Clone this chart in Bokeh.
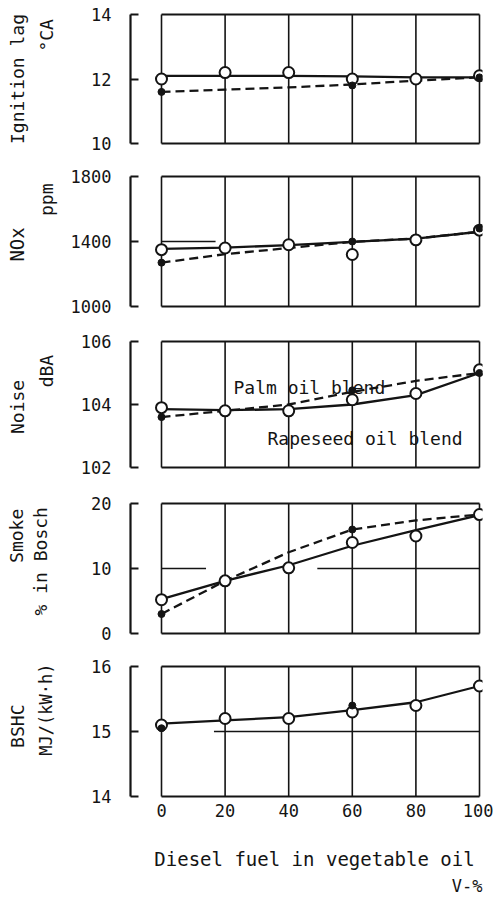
import numpy as np
from bokeh.plotting import figure
from bokeh.layouts import column, row
from bokeh.models import Range1d, FixedTicker, Label
from bokeh.core.properties import value
from bokeh.embed import file_html
from bokeh.resources import INLINE

# Share of diesel fuel in the vegetable-oil blend, v-%
diesel_pct = [0, 20, 40, 60, 80, 100]
palm_pct = [0, 60, 100]
palm_pct_short = [0, 60]
x_ticks = [0, 20, 40, 60, 80, 100]
x_tick_labels = ["0", "20", "40", "60", "80", "100"]

# Ignition lag, °CA
ign_rapeseed = [12.0, 12.2, 12.2, 12.0, 12.0, 12.1]
ign_palm = [11.6, 11.8, 12.05]
ign_rapeseed_curve = [12.1, 12.1, 12.1, 12.08, 12.05, 12.05]
ign_palm_curve = [11.6, 11.67, 11.74, 11.83, 11.95, 12.05]
ign_ticks = [10, 12, 14]

# NOx, ppm
nox_rapeseed = [1350, 1360, 1380, 1320, 1410, 1470]
nox_palm = [1270, 1400, 1480]
nox_rapeseed_curve = [1355, 1362, 1378, 1398, 1418, 1460]
nox_palm_curve = [1270, 1322, 1360, 1398, 1418, 1460]
nox_ticks = [1000, 1400, 1800]

# Noise, dBA
noise_rapeseed = [103.9, 103.8, 103.8, 104.15, 104.35, 105.1]
noise_palm = [103.6, 104.45, 105.0]
noise_rapeseed_curve = [103.85, 103.82, 103.85, 104.0, 104.3, 105.0]
noise_palm_curve = [103.6, 103.8, 104.0, 104.4, 104.75, 105.0]
noise_ticks = [102, 104, 106]

# Smoke, % Bosch
smoke_rapeseed = [5.2, 8.1, 10.1, 14.0, 15.0, 18.3]
smoke_palm = [3.0, 16.0]
smoke_rapeseed_curve = [5.3, 8.1, 10.5, 13.5, 15.9, 18.2]
smoke_palm_curve = [3.0, 8.1, 12.5, 16.0, 17.4, 18.3]
smoke_ticks = [0, 10, 20]

# Brake specific heat consumption, MJ/(kW·h)
bshc_rapeseed = [15.1, 15.2, 15.2, 15.3, 15.4, 15.7]
bshc_palm = [15.05, 15.4]
bshc_rapeseed_curve = [15.12, 15.17, 15.22, 15.33, 15.45, 15.7]
bshc_ticks = [14, 15, 16]

INK = "#141414"
MONO = "DejaVu Sans Mono"

W = 493
LW = 66                              # strip on the left holding the quantity names
FRAME_L, FRAME_R = 130, 482          # plot frame in page pixels
X0_PX, X100_PX = 161, 479            # where 0 % and 100 % sit
PAD = 3                               # px kept above/below the boxed area
TICK_FONT = 17

# name / unit lines: (text, centre x, anchor y, alignment, font px)
panels = [
    dict(ticks=ign_ticks, rape=ign_rapeseed, palm_x=palm_pct, palm=ign_palm,
         rape_curve=ign_rapeseed_curve, palm_curve=ign_palm_curve,
         top=0, bottom=160, d_top=14, d_bot=143, rules=[],
         names=[("Ignition lag", 17, 80, "center", 18), ("°CA", 46, 9, "right", 18)]),
    dict(ticks=nox_ticks, rape=nox_rapeseed, palm_x=palm_pct, palm=nox_palm,
         rape_curve=nox_rapeseed_curve, palm_curve=nox_palm_curve,
         top=160, bottom=323, d_top=176, d_bot=306, rules=[(1400, 0, 17)],
         names=[("NOx", 16, 245, "center", 19), ("ppm", 46, 172, "right", 18)]),
    dict(ticks=noise_ticks, rape=noise_rapeseed, palm_x=palm_pct, palm=noise_palm,
         rape_curve=noise_rapeseed_curve, palm_curve=noise_palm_curve,
         top=323, bottom=485, d_top=341, d_bot=467, rules=[],
         names=[("Noise", 17, 407, "center", 18), ("dBA", 46, 343, "right", 18)]),
    dict(ticks=smoke_ticks, rape=smoke_rapeseed, palm_x=palm_pct_short, palm=smoke_palm,
         rape_curve=smoke_rapeseed_curve, palm_curve=smoke_palm_curve,
         top=485, bottom=650, d_top=503, d_bot=633, rules=[(10, 0, 14), (10, 49, 100)],
         names=[("Smoke", 16, 495, "right", 18), ("% in Bosch", 40, 493, "right", 18)]),
    dict(ticks=bshc_ticks, rape=bshc_rapeseed, palm_x=palm_pct_short, palm=bshc_palm,
         rape_curve=bshc_rapeseed_curve, palm_curve=None,
         top=650, bottom=830, d_top=666, d_bot=796, rules=[(15, 16.5, 100)],
         names=[("BSHC", 17, 733, "center", 18), ("MJ/(kW·h)", 45, 711, "center", 17)]),
]
FOOTER_TOP, FOOTER_BOTTOM = 830, 897
footer_lines = [("Diesel fuel in vegetable oil", 314, 858, "center", 19),
                ("V-%", 482, 885, "right", 17)]

px_per_pct = (X100_PX - X0_PX) / 100.0
x_start = -(X0_PX - FRAME_L) / px_per_pct
x_end = (FRAME_R - X0_PX) / px_per_pct


def x_of(px):
    return (px - X0_PX) / px_per_pct


def text_strip(width, top, bottom, lines, angle):
    """A bare canvas, measured in page pixels, that only carries text."""
    h = bottom - top
    s = figure(width=width, height=h, output_backend="svg", toolbar_location=None,
               x_range=Range1d(0, width), y_range=Range1d(0, h),
               x_axis_location=None, y_axis_location=None,
               min_border_left=0, min_border_right=0, min_border_top=0, min_border_bottom=0)
    s.outline_line_color = None
    s.grid.visible = False
    s.background_fill_color = "white"
    s.border_fill_color = "white"
    for text, cx, cy, align, size in lines:
        s.text(x=[cx], y=[h - (cy - top)], text=[text], angle=angle,
               text_align=align, text_baseline="middle",
               text_font=value(MONO), text_font_size=value(f"{size}px"), text_color=INK)
    return s


rows = []
for i, pn in enumerate(panels):
    ymin, ymax = pn["ticks"][0], pn["ticks"][-1]
    px_per_unit = (pn["d_bot"] - pn["d_top"]) / (ymax - ymin)
    pad_u = PAD / px_per_unit
    fig_h = pn["bottom"] - pn["top"]
    b_top = pn["d_top"] - PAD - pn["top"]
    frame_h = pn["d_bot"] - pn["d_top"] + 2 * PAD
    b_bot = fig_h - b_top - frame_h
    last = i == len(panels) - 1

    p = figure(width=W - LW, height=fig_h, output_backend="svg", toolbar_location=None,
               x_range=Range1d(x_start, x_end),
               y_range=Range1d(ymin - pad_u, ymax + pad_u),
               x_axis_location="below" if last else None,
               min_border_left=FRAME_L - LW, min_border_right=W - FRAME_R,
               min_border_top=b_top, min_border_bottom=b_bot)
    p.outline_line_color = None
    p.grid.visible = False
    p.background_fill_color = "white"
    p.border_fill_color = "white"

    def y_of(py, ymax=ymax, d_top=pn["d_top"], s=px_per_unit):
        return ymax - (py - d_top) / s

    # bracket-style value axis
    ya = p.yaxis[0]
    ya.ticker = FixedTicker(ticks=pn["ticks"])
    ya.bounds = (ymin, ymax)
    ya.axis_line_width = 2.2
    ya.axis_line_color = INK
    ya.major_tick_in = 8
    ya.major_tick_out = 0
    ya.major_tick_line_width = 2.2
    ya.major_tick_line_color = INK
    ya.minor_tick_line_color = None
    ya.major_label_standoff = 19
    ya.major_label_text_font = MONO
    ya.major_label_text_font_size = f"{TICK_FONT}px"
    ya.major_label_text_color = INK

    # boxed area: vertical rules at every tick, horizontal edges top and bottom
    p.segment(x0=x_ticks, y0=[ymin] * len(x_ticks), x1=x_ticks, y1=[ymax] * len(x_ticks),
              line_color=INK, line_width=1.6)
    p.segment(x0=[x_ticks[0]] * 2, y0=[ymin, ymax], x1=[x_ticks[-1]] * 2, y1=[ymin, ymax],
              line_color=INK, line_width=1.8)
    if pn["rules"]:
        ry, rx0, rx1 = zip(*pn["rules"])
        p.segment(x0=list(rx0), y0=list(ry), x1=list(rx1), y1=list(ry),
                  line_color=INK, line_width=1.6)

    # fitted trends
    p.line(diesel_pct, pn["rape_curve"], line_color=INK, line_width=2.3, line_join="round")
    if pn["palm_curve"] is not None:
        p.line(diesel_pct, pn["palm_curve"], line_color=INK, line_width=2.3,
               line_dash="9 5", line_join="round")

    # measured points
    p.scatter(diesel_pct, pn["rape"], marker="circle", size=11, line_width=2,
              line_color=INK, fill_color="white")
    p.scatter(pn["palm_x"], pn["palm"], marker="circle", size=7, line_color=INK,
              fill_color=INK)

    if i == 2:
        p.add_layout(Label(x=x_of(233), y=y_of(387), text="Palm oil blend",
                           text_align="left", text_baseline="middle",
                           text_font=MONO, text_font_size="18px", text_color=INK))
        p.add_layout(Label(x=x_of(267), y=y_of(438), text="Rapeseed oil blend",
                           text_align="left", text_baseline="middle",
                           text_font=MONO, text_font_size="18px", text_color=INK))

    if last:
        xa = p.xaxis[0]
        xa.ticker = FixedTicker(ticks=x_ticks)
        xa.major_label_overrides = {t: s for t, s in zip(x_ticks, x_tick_labels)}
        xa.axis_line_color = None
        xa.major_tick_in = 0
        xa.major_tick_out = 0
        xa.minor_tick_line_color = None
        xa.major_label_standoff = 4
        xa.major_label_text_font = MONO
        xa.major_label_text_font_size = f"{TICK_FONT}px"
        xa.major_label_text_color = INK

    names = text_strip(LW, pn["top"], pn["bottom"], pn["names"], np.pi / 2)
    rows.append(row(names, p, spacing=0))

footer = text_strip(W, FOOTER_TOP, FOOTER_BOTTOM, footer_lines, 0)
layout = column(*rows, footer, spacing=0)
open("out.html", "w").write(file_html(layout, INLINE))
